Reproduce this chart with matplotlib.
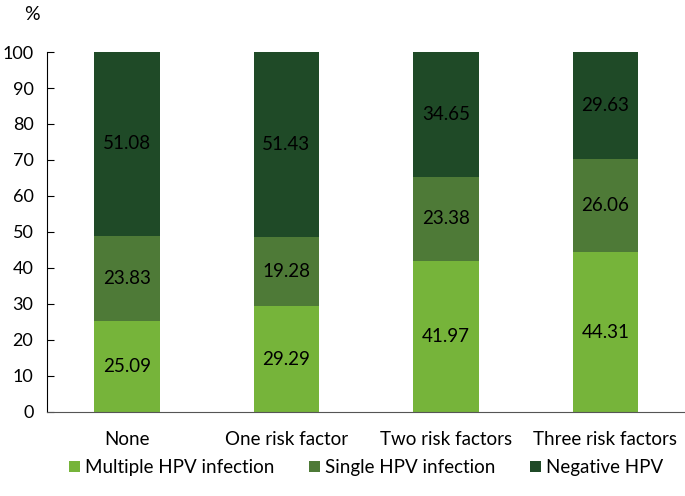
import matplotlib.pyplot as plt
import numpy as np

plt.rcParams['font.family'] = ['Lato', 'DejaVu Sans']

groups = ['None', 'One risk factor', 'Two risk factors', 'Three risk factors']
multiple = [25.09, 29.29, 41.97, 44.31]
single = [23.83, 19.28, 23.38, 26.06]
negative = [51.08, 51.43, 34.65, 29.63]

colors = ['#76B43A', '#4E7A37', '#1F4A27']
names = ['Multiple HPV infection', 'Single HPV infection', 'Negative HPV']

fig, ax = plt.subplots(figsize=(6.85, 4.96), dpi=100)
fig.subplots_adjust(left=0.069, right=1.0, top=0.895, bottom=0.17)

x = np.arange(len(groups))
bottom = np.zeros(len(groups))
for vals, c, n in zip([multiple, single, negative], colors, names):
    ax.bar(x, vals, 0.41, bottom=bottom, color=c, label=n)
    for xi, b, v in zip(x, bottom, vals):
        ax.text(xi, b + v / 2, f'{v:.2f}', ha='center', va='center', fontsize=13.5, color='black')
    bottom += np.array(vals)

ax.set_xlim(-0.5, 3.5)
ax.set_ylim(0, 100)
ax.set_yticks(range(0, 101, 10))
ax.set_xticks(x)
ax.set_xticklabels(groups)
ax.tick_params(axis='y', direction='in', length=5, labelsize=13, pad=10)
ax.tick_params(axis='x', length=0, labelsize=13.5, pad=14)
for s in ['top', 'right']:
    ax.spines[s].set_visible(False)
ax.spines['left'].set_color('black')
ax.spines['bottom'].set_color('#555555')

fig.text(0.035, 0.97, '%', fontsize=14, ha='left', va='center')
ax.legend(loc='upper center', bbox_to_anchor=(0.5, -0.085), ncol=3, frameon=False,
          fontsize=13.5, handlelength=0.6, handleheight=0.6, handletextpad=0.3, columnspacing=1.8)

plt.savefig('out.png')
